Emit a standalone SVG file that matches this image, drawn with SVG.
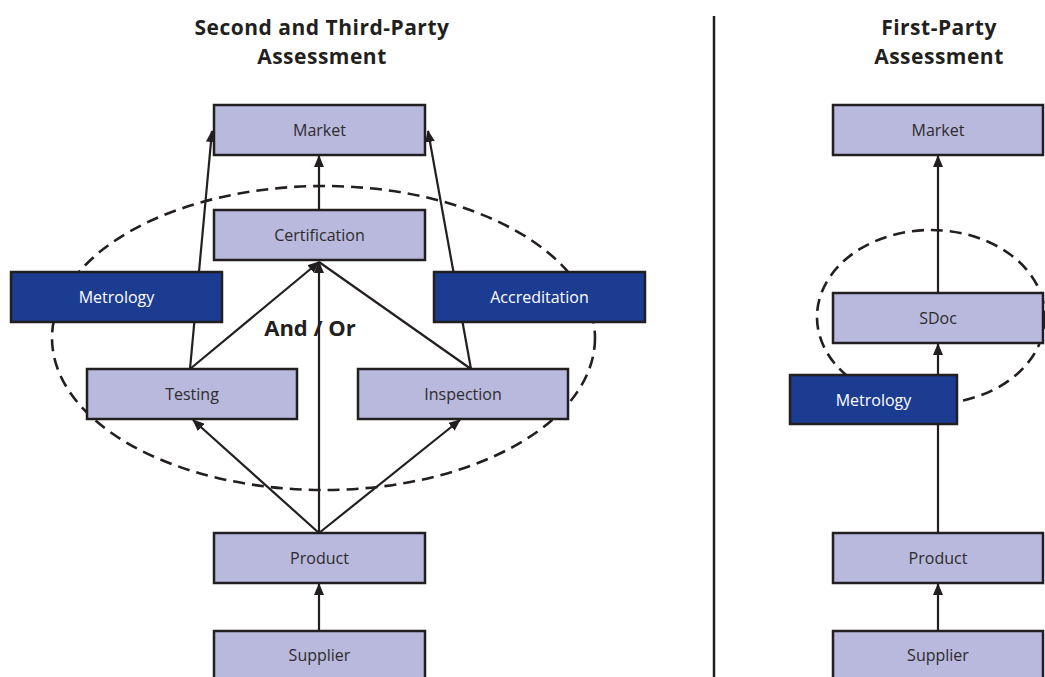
<svg xmlns="http://www.w3.org/2000/svg" width="1045" height="677" viewBox="0 0 1045 677">
<style>
.title{font-family:"Open Sans","Liberation Sans",sans-serif;font-weight:bold;font-size:21px;letter-spacing:0.5px;fill:#231f20;text-anchor:middle}
.box{fill:#b8b9dc;stroke:#231f20;stroke-width:2.5}
.dbox{fill:#1c3c91;stroke:#231f20;stroke-width:2.5}
.lbl{font-family:"Open Sans","Liberation Sans",sans-serif;font-size:16px;fill:#2e2b2c;text-anchor:middle}
.dlbl{font-family:"Open Sans","Liberation Sans",sans-serif;font-size:16px;fill:#ffffff;text-anchor:middle}
.con{stroke:#231f20;stroke-width:2.2;fill:none}
.arr{marker-end:url(#ah)}
.dash{fill:none;stroke:#231f20;stroke-width:2.6;stroke-dasharray:12 7}
</style>
<defs>
<marker id="ah" viewBox="0 0 12 10" refX="11" refY="5" markerWidth="12" markerHeight="10" markerUnits="userSpaceOnUse" orient="auto">
<path d="M0,0 L12,5 L0,10 z" fill="#231f20"/>
</marker>
</defs>
<rect width="1045" height="677" fill="#ffffff"/>
<text class="title" x="322" y="35">Second and Third-Party</text>
<text class="title" x="322" y="64">Assessment</text>
<text class="title" x="939" y="35">First-Party</text>
<text class="title" x="939" y="64">Assessment</text>
<line x1="714" y1="16" x2="714" y2="677" stroke="#231f20" stroke-width="2.5"/>
<g id="scopes">
<ellipse class="dash" cx="323.5" cy="338" rx="271.5" ry="152"/>
<ellipse class="dash" cx="931" cy="317" rx="114" ry="87"/>
</g>
<g id="connectors">
<line class="con arr" x1="190" y1="369" x2="212" y2="131"/>
<line class="con arr" x1="471" y1="369" x2="428" y2="131"/>
<line class="con arr" x1="190" y1="369" x2="319" y2="262"/>
<line class="con" x1="471" y1="369" x2="319" y2="262"/>
<line class="con arr" x1="319" y1="533" x2="193" y2="420"/>
<line class="con arr" x1="319" y1="533" x2="460" y2="420"/>
<line class="con arr" x1="319" y1="533" x2="319" y2="262"/>
<line class="con arr" x1="319" y1="210" x2="319" y2="156"/>
<line class="con arr" x1="319" y1="631" x2="319" y2="584"/>
<line class="con arr" x1="938" y1="293" x2="938" y2="156"/>
<line class="con arr" x1="938" y1="375" x2="938" y2="344"/>
<line class="con" x1="938" y1="533" x2="938" y2="424"/>
<line class="con arr" x1="938" y1="631" x2="938" y2="584"/>
</g>
<text x="310" y="336" font-family="'Open Sans','Liberation Sans',sans-serif" font-weight="bold" font-size="22" fill="#231f20" text-anchor="middle">And / Or</text>
<g id="market-l"><rect class="box" x="214" y="105" width="211" height="50"/><text class="lbl" x="319.5" y="136">Market</text></g>
<g id="certification"><rect class="box" x="214" y="210" width="211" height="50"/><text class="lbl" x="319.5" y="241">Certification</text></g>
<g id="metrology-l"><rect class="dbox" x="11" y="272" width="211" height="50"/><text class="dlbl" x="116.5" y="303">Metrology</text></g>
<g id="accreditation"><rect class="dbox" x="434" y="272" width="211" height="50"/><text class="dlbl" x="539.5" y="303">Accreditation</text></g>
<g id="testing"><rect class="box" x="87" y="369" width="210" height="50"/><text class="lbl" x="192" y="400">Testing</text></g>
<g id="inspection"><rect class="box" x="358" y="369" width="210" height="50"/><text class="lbl" x="463" y="400">Inspection</text></g>
<g id="product-l"><rect class="box" x="214" y="533" width="211" height="50"/><text class="lbl" x="319.5" y="564">Product</text></g>
<g id="supplier-l"><rect class="box" x="214" y="631" width="211" height="50"/><text class="lbl" x="319.5" y="661">Supplier</text></g>
<g id="market-r"><rect class="box" x="833" y="105" width="210" height="50"/><text class="lbl" x="938" y="136">Market</text></g>
<g id="sdoc"><rect class="box" x="833" y="293" width="210" height="50"/><text class="lbl" x="938" y="324">SDoc</text></g>
<g id="metrology-r"><rect class="dbox" x="790" y="375" width="167" height="49"/><text class="dlbl" x="873.5" y="406">Metrology</text></g>
<g id="product-r"><rect class="box" x="833" y="533" width="210" height="50"/><text class="lbl" x="938" y="564">Product</text></g>
<g id="supplier-r"><rect class="box" x="833" y="631" width="210" height="50"/><text class="lbl" x="938" y="661">Supplier</text></g>
</svg>
